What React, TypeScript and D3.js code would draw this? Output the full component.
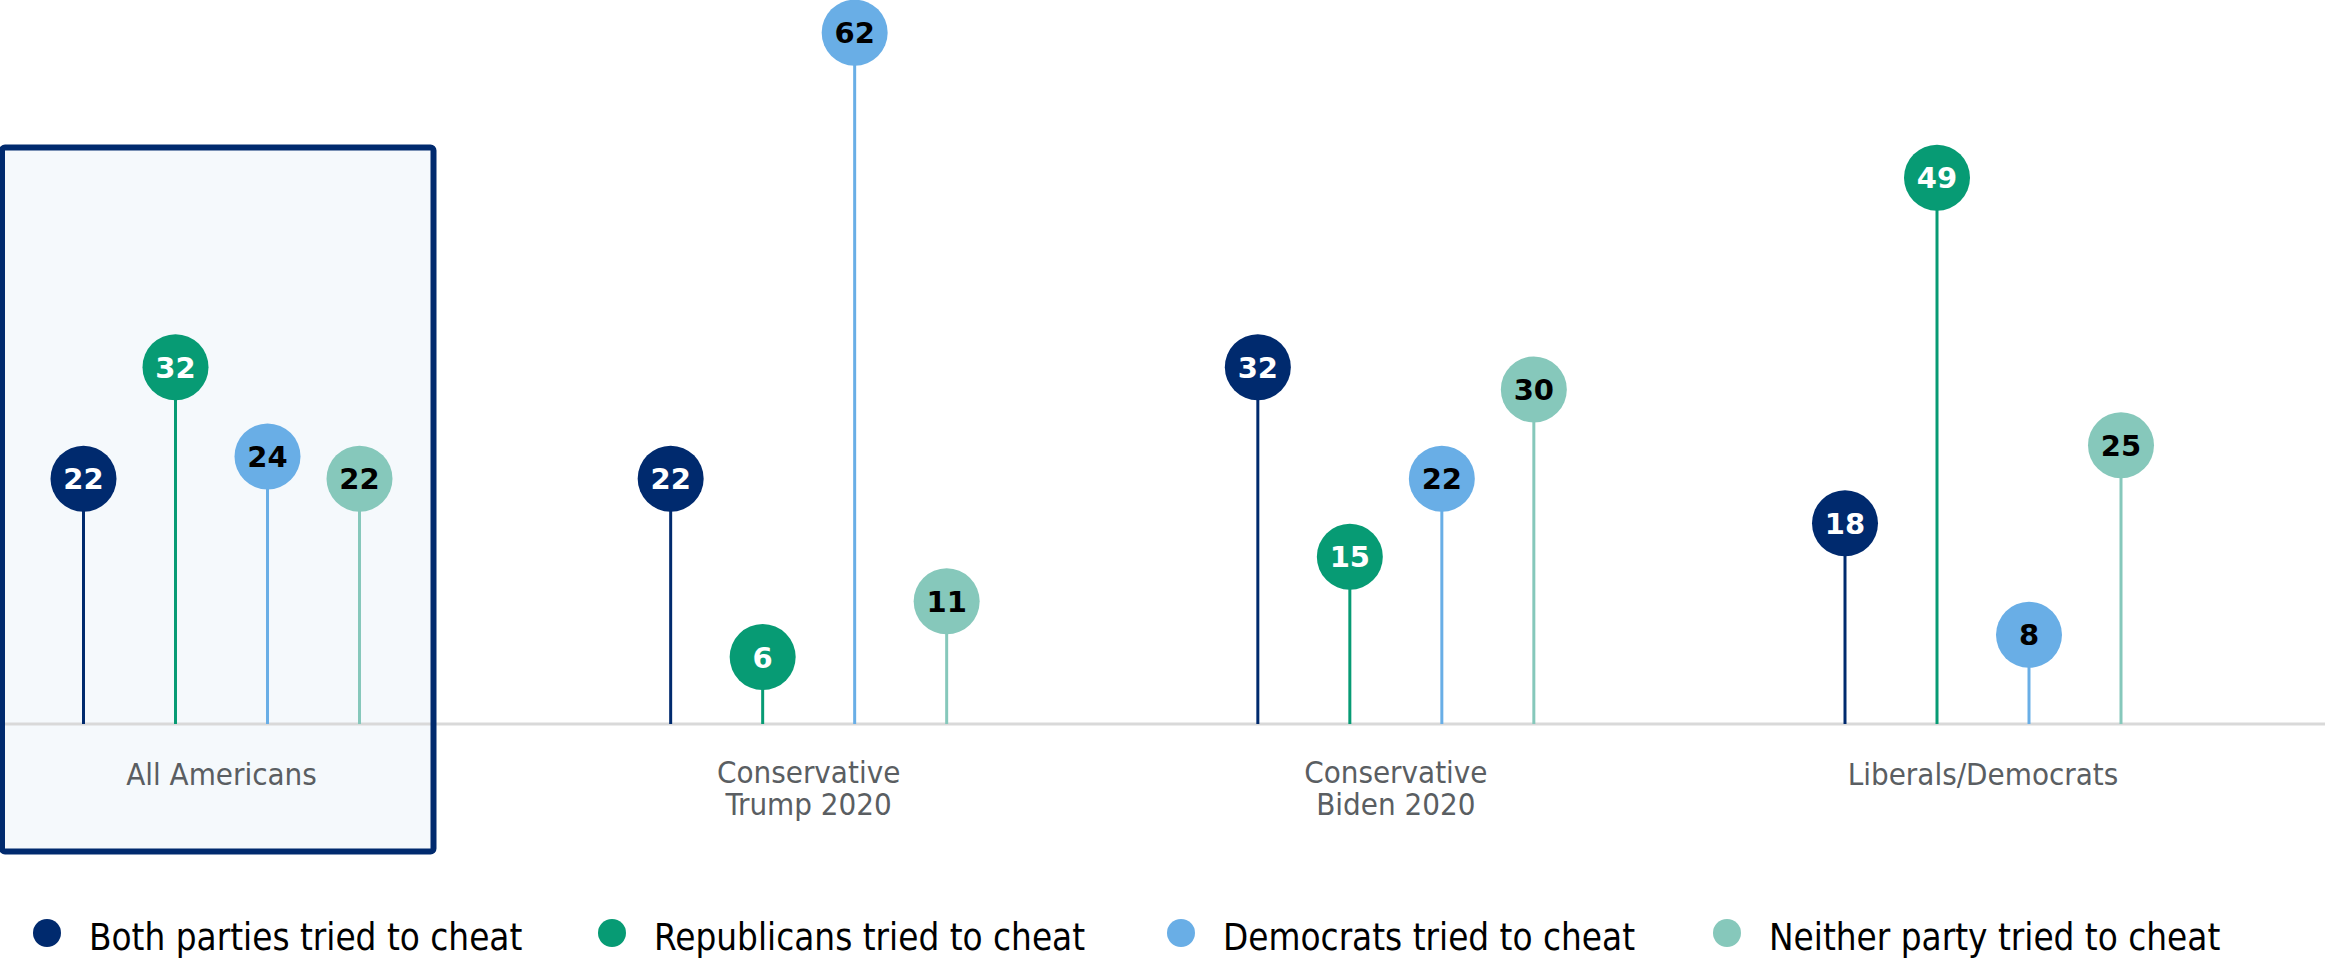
import React from "react";
import * as d3 from "d3";

const categories = ["All Americans", "Conservative\nTrump 2020", "Conservative\nBiden 2020", "Liberals/Democrats"];
const seriesNames = [
  "Both parties tried to cheat",
  "Republicans tried to cheat",
  "Democrats tried to cheat",
  "Neither party tried to cheat",
];
const bothParties = [22, 22, 32, 18];
const republicans = [32, 6, 15, 49];
const democrats = [24, 62, 22, 8];
const neitherParty = [22, 11, 30, 25];

const seriesValues = [bothParties, republicans, democrats, neitherParty];
const seriesColors = ["#002a6e", "#079b74", "#69aee6", "#86c8bb"];
const labelColors = ["#ffffff", "#ffffff", "#000000", "#000000"];
const legendX = [47, 612, 1181, 1727];

const W = 2325;
const H = 958;
const BASE = 724;
const FONT = "'DejaVu Sans Condensed', 'DejaVu Sans', Verdana, sans-serif";
const BOLD_FONT = "'DejaVu Sans', Verdana, sans-serif";

export default function App() {
  const x0 = d3.scalePoint<string>().domain(categories).range([221.5, 1983]);
  const x1 = d3.scalePoint<string>().domain(seriesNames).range([-138, 138]);
  const y = d3.scaleLinear().domain([0, 62]).range([BASE, BASE - 62 * 11.15]);
  const r = 33;

  return (
    <svg
      width={W}
      height={H}
      style={{ position: "absolute", left: 0, top: 0, background: "#fff" }}
      fontFamily={FONT}
    >
      <rect x={2} y={147.5} width={431.5} height={704} rx={3} fill="#f5f9fc" />
      <line x1={0} x2={W} y1={BASE} y2={BASE} stroke="#d9d9d9" strokeWidth={3} />
      <rect x={2} y={147.5} width={431.5} height={704} rx={3} fill="none" stroke="#002a6e" strokeWidth={6} />

      {categories.map((cat, ci) => {
        const cx = x0(cat)!;
        const lines = cat.split("\n");
        return (
          <g key={cat}>
            {seriesNames.map((s, si) => {
              const v = seriesValues[si][ci];
              const px = cx + x1(s)!;
              const py = y(v);
              return (
                <g key={s}>
                  <line x1={px} x2={px} y1={BASE} y2={py} stroke={seriesColors[si]} strokeWidth={3} />
                  <circle cx={px} cy={py} r={r} fill={seriesColors[si]} />
                  <text
                    x={px}
                    y={py}
                    dy="0.36em"
                    textAnchor="middle"
                    fontFamily={BOLD_FONT}
                    fontWeight="bold"
                    fontSize={29}
                    fill={labelColors[si]}
                  >
                    {v}
                  </text>
                </g>
              );
            })}
            {lines.map((ln, li) => (
              <text
                key={li}
                x={cx}
                y={(lines.length === 1 ? 785 : 783) + li * 32}
                textAnchor="middle"
                fontSize={31}
                fill="#5a5e62"
              >
                {ln}
              </text>
            ))}
          </g>
        );
      })}

      {seriesNames.map((s, si) => (
        <g key={s} transform={`translate(${legendX[si]},933)`}>
          <circle cx={0} cy={0} r={14} fill={seriesColors[si]} />
          <text x={42} y={17} fontSize={36.5} fill="#000">
            {s}
          </text>
        </g>
      ))}
    </svg>
  );
}
